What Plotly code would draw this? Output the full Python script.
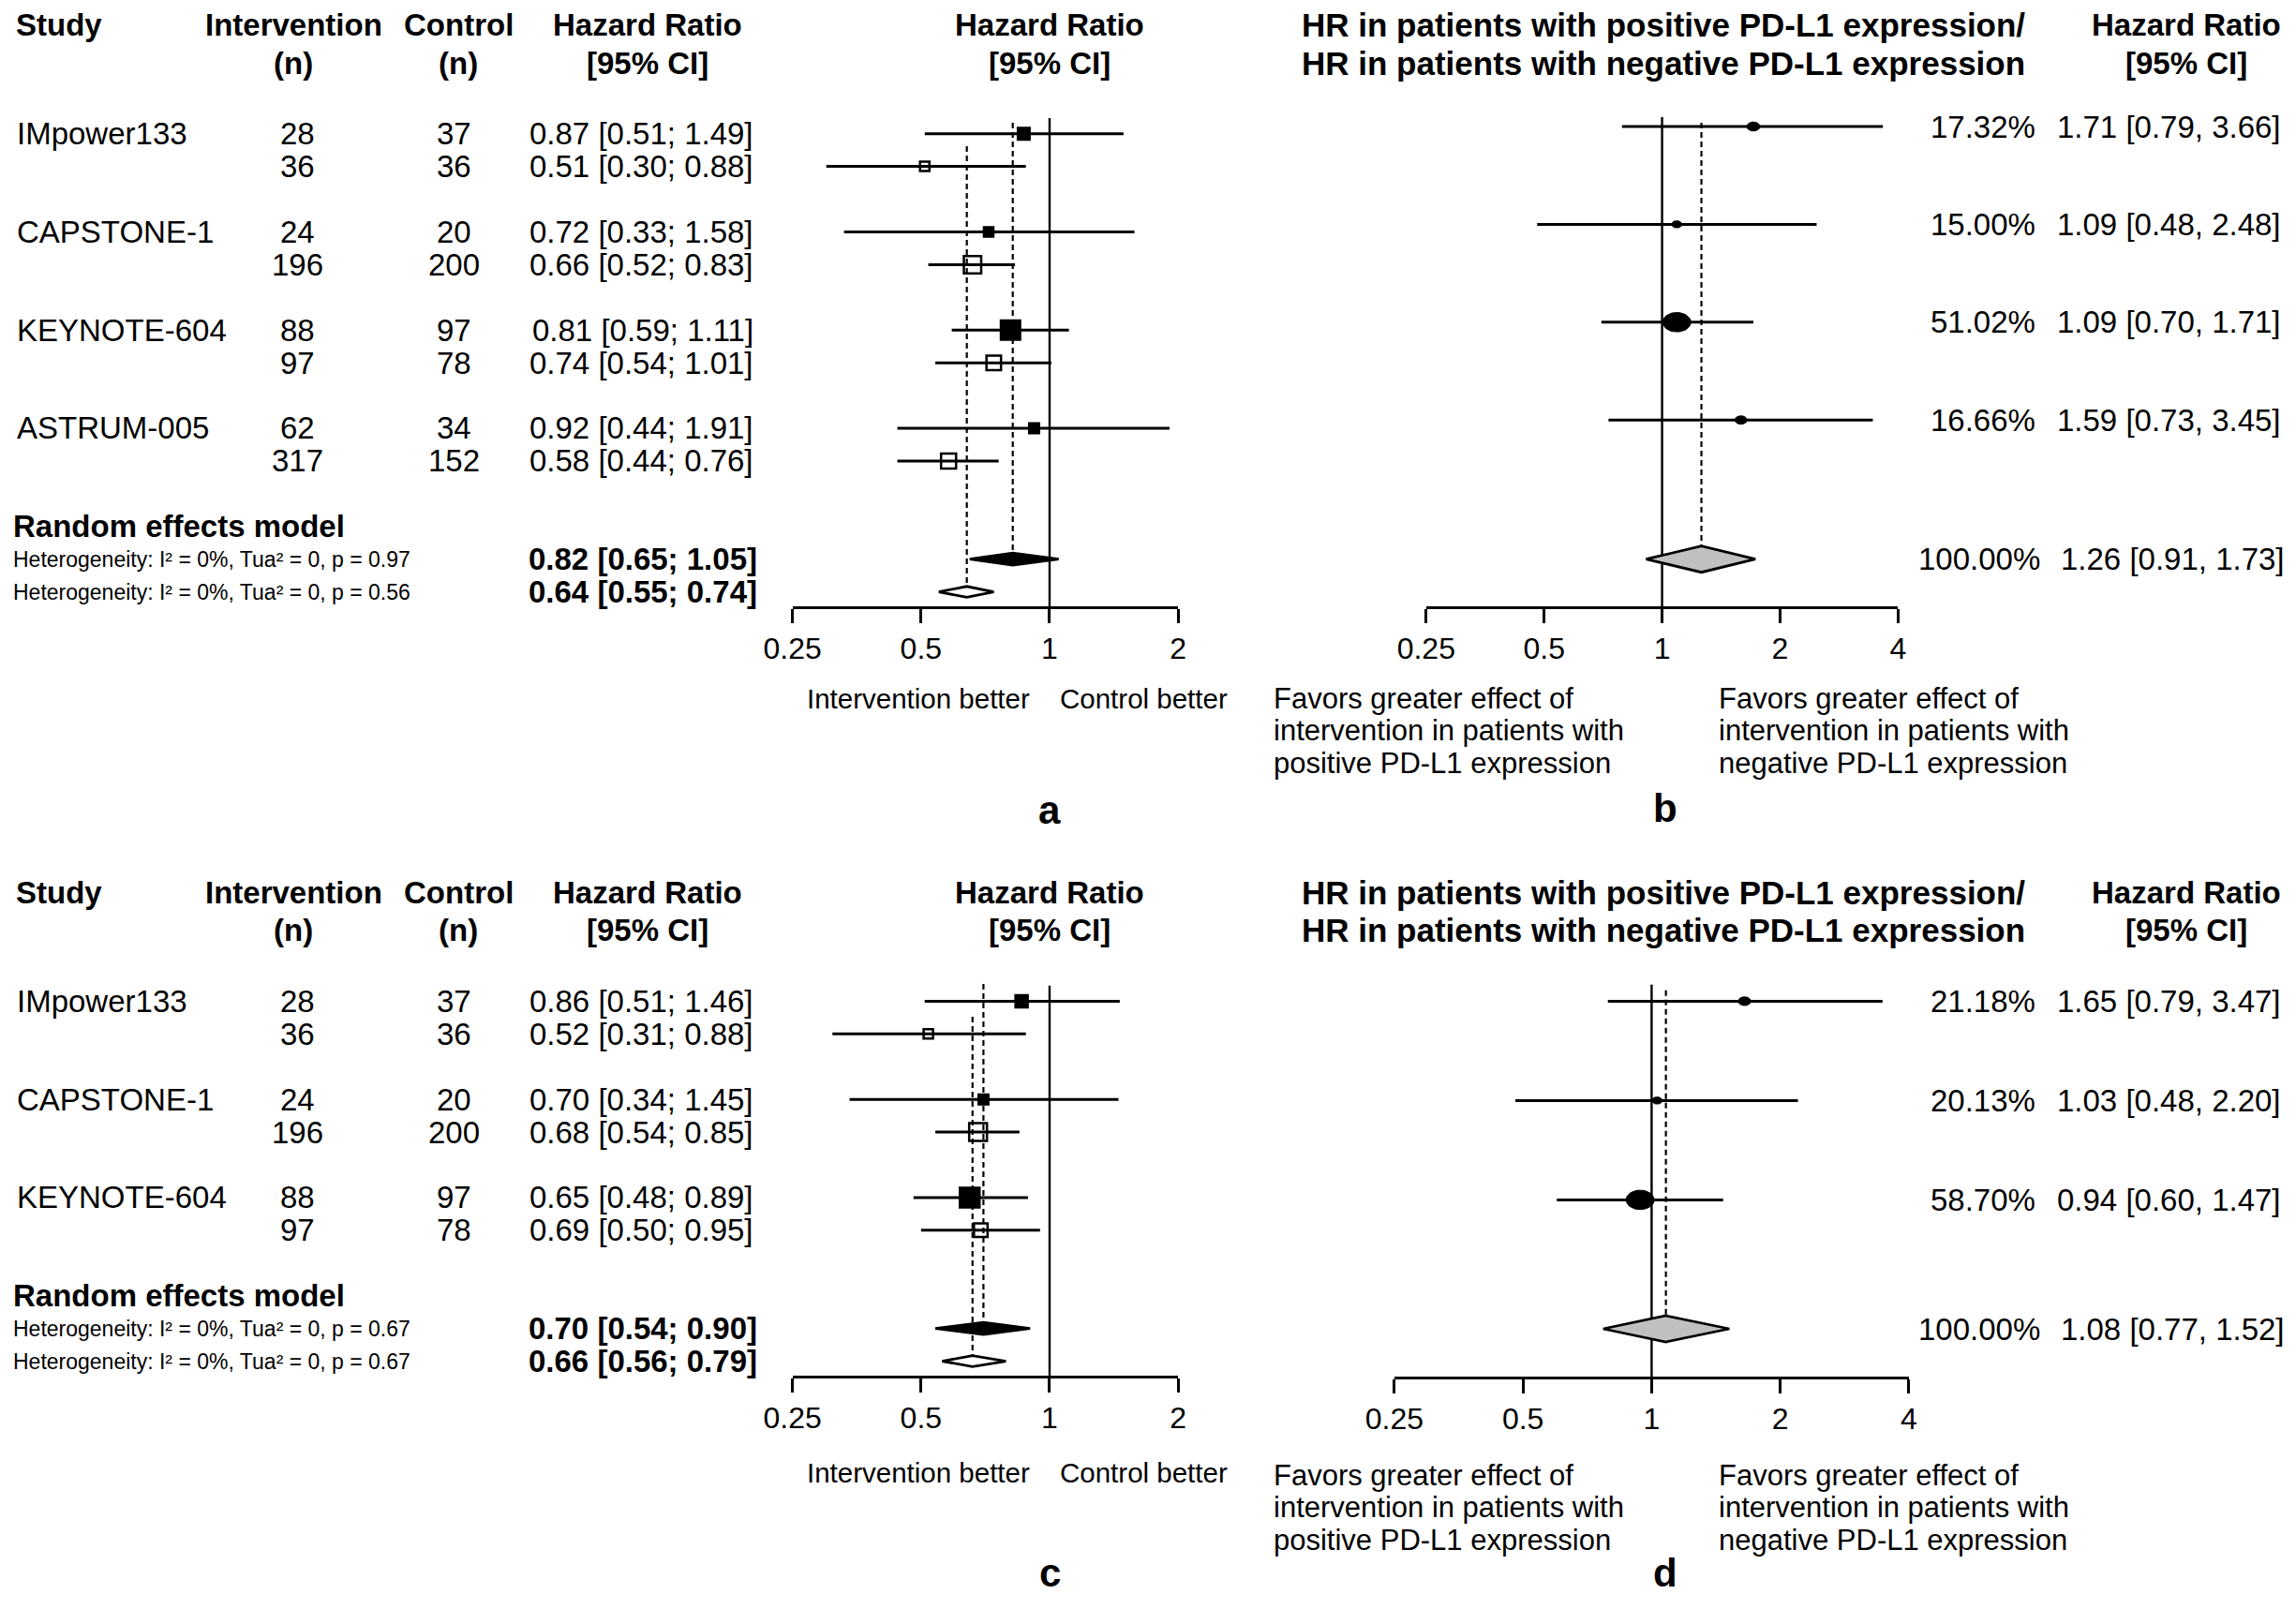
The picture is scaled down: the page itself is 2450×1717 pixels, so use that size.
"""
Forest plots: PD-L1 positive / negative subgroups (panels a-d)
"""

import numpy as np
import plotly.graph_objects as go

W, H = 2450, 1717
OFF = 8  # default page margin of the html body
FONT = "Liberation Sans, Arial, Helvetica, sans-serif"

# ---------------- data ----------------
studies_top = ["IMpower133", "CAPSTONE-1", "KEYNOTE-604", "ASTRUM-005"]
studies_bottom = ["IMpower133", "CAPSTONE-1", "KEYNOTE-604"]

# panel a: first row = PD-L1 positive (filled), second row = PD-L1 negative (open)
a_pos_n_int = [28, 24, 88, 62]
a_pos_n_ctl = [37, 20, 97, 34]
a_pos_hr = [0.87, 0.72, 0.81, 0.92]
a_pos_lo = [0.51, 0.33, 0.59, 0.44]
a_pos_hi = [1.49, 1.58, 1.11, 1.91]
a_neg_n_int = [36, 196, 97, 317]
a_neg_n_ctl = [36, 200, 78, 152]
a_neg_hr = [0.51, 0.66, 0.74, 0.58]
a_neg_lo = [0.30, 0.52, 0.54, 0.44]
a_neg_hi = [0.88, 0.83, 1.01, 0.76]
a_pooled_hr = [0.82, 0.64]
a_pooled_lo = [0.65, 0.55]
a_pooled_hi = [1.05, 0.74]
a_het_p = ["0.97", "0.56"]

# panel b: ratio of HRs (positive / negative)
b_hr = [1.71, 1.09, 1.09, 1.59]
b_lo = [0.79, 0.48, 0.70, 0.73]
b_hi = [3.66, 2.48, 1.71, 3.45]
b_weight = [17.32, 15.00, 51.02, 16.66]
b_pooled = [1.26, 0.91, 1.73]

# panel c
c_pos_n_int = [28, 24, 88]
c_pos_n_ctl = [37, 20, 97]
c_pos_hr = [0.86, 0.70, 0.65]
c_pos_lo = [0.51, 0.34, 0.48]
c_pos_hi = [1.46, 1.45, 0.89]
c_neg_n_int = [36, 196, 97]
c_neg_n_ctl = [36, 200, 78]
c_neg_hr = [0.52, 0.68, 0.69]
c_neg_lo = [0.31, 0.54, 0.50]
c_neg_hi = [0.88, 0.85, 0.95]
c_pooled_hr = [0.70, 0.66]
c_pooled_lo = [0.54, 0.56]
c_pooled_hi = [0.90, 0.79]
c_het_p = ["0.67", "0.67"]

# panel d
d_hr = [1.65, 1.03, 0.94]
d_lo = [0.79, 0.48, 0.60]
d_hi = [3.47, 2.20, 1.47]
d_weight = [21.18, 20.13, 58.70]
d_pooled = [1.08, 0.77, 1.52]

ticks_left = [0.25, 0.5, 1, 2]
ticks_right = [0.25, 0.5, 1, 2, 4]

# marker sizes (pixels)
a_pos_size = [12.5, 10, 20.5, 10.5]
a_neg_size = [10, 18.5, 15.5, 16]
c_pos_size = [13, 10.5, 21]
c_neg_size = [10, 19, 14.5]
b_dot_width = [14, 11, 30, 13]
d_dot_width = [13.5, 11, 30]
DOT_ASPECT = 1.45  # dots in b/d are drawn as flattened ellipses

# panel x-extents (pixels of tick span)
PANEL_X = {"x": (845.7, 1257.1), "x2": (1521.8, 2025.3),
           "x3": (845.7, 1257.1), "x4": (1487.9, 2036.9)}
PANEL_TICKS = {"x": ticks_left, "x2": ticks_right, "x3": ticks_left, "x4": ticks_right}

fig = go.Figure()
annotations = []


def px_x(x):
    return (x - OFF) / (W - 2 * OFF)


def txt(x, y, s, size=33, align="center", bold=False):
    annotations.append(dict(
        x=px_x(x), y=y, xref="paper", yref="y",
        text=f"<b>{s}</b>" if bold else s,
        showarrow=False, xanchor=align, yanchor="middle",
        font=dict(family=FONT, size=size, color="black")))


def seg(xaxis, x, y, width=3, dash=None):
    fig.add_trace(go.Scatter(
        x=x, y=y, mode="lines", xaxis=xaxis, yaxis="y",
        line=dict(color="black", width=width, dash=dash),
        hoverinfo="skip", showlegend=False))


def ci_lines(xaxis, lo, hi, ys):
    xs, yy = [], []
    for l, h, y in zip(lo, hi, ys):
        xs += [l, h, None]
        yy += [y, y, None]
    seg(xaxis, xs, yy)


def points(xaxis, hr, ys, sizes, symbol):
    fig.add_trace(go.Scatter(
        x=hr, y=ys, mode="markers", xaxis=xaxis, yaxis="y", cliponaxis=False,
        marker=dict(symbol=symbol, size=sizes, color="black", opacity=1,
                    line=dict(color="black", width=2.5)),
        hoverinfo="skip", showlegend=False))


def ellipses(xaxis, hr, ys, widths):
    x0, x1 = PANEL_X[xaxis]
    tk = PANEL_TICKS[xaxis]
    px_per_dec = (x1 - x0) / (np.log10(tk[-1]) - np.log10(tk[0]))
    t = np.linspace(0, 2 * np.pi, 48)
    for v, y, w in zip(hr, ys, widths):
        xs = 10 ** (np.log10(v) + (w / 2) / px_per_dec * np.cos(t))
        yy = y + (w / DOT_ASPECT / 2) * np.sin(t)
        fig.add_trace(go.Scatter(
            x=xs, y=yy, mode="lines", fill="toself", fillcolor="black",
            line=dict(color="black", width=1), xaxis=xaxis, yaxis="y",
            hoverinfo="skip", showlegend=False))


def diamond(xaxis, est, lo, hi, y, half, fill):
    fig.add_trace(go.Scatter(
        x=[lo, est, hi, est, lo], y=[y, y - half, y, y + half, y],
        mode="lines", fill="toself", fillcolor=fill, xaxis=xaxis, yaxis="y",
        line=dict(color="black", width=2.8), hoverinfo="skip", showlegend=False))


def left_panel(xaxis, top, studies, pos_ni, pos_nc, pos_hr, pos_lo, pos_hi,
               neg_ni, neg_nc, neg_hr, neg_lo, neg_hi, pooled_hr, pooled_lo,
               pooled_hi, het_p, pos_size, neg_size, dash_top, axis_y,
               lab_y, letter_y, letter):
    row0, step = top + 142.7, 34.92
    k = len(studies)
    y_pos = [row0 + 3 * i * step for i in range(k)]
    y_neg = [row0 + (3 * i + 1) * step for i in range(k)]
    y_re = row0 + 3 * k * step
    y_sum = [y_re + step, y_re + 2 * step]

    # headers
    txt(15, top + 26.5, "Study", align="left", bold=True)
    txt(313, top + 26.5, "Intervention", bold=True)
    txt(313, top + 67, "(n)", bold=True)
    txt(489, top + 26.5, "Control", bold=True)
    txt(489, top + 67, "(n)", bold=True)
    txt(691, top + 26.5, "Hazard Ratio", bold=True)
    txt(691, top + 67, "[95% CI]", bold=True)
    txt(1120, top + 26.5, "Hazard Ratio", bold=True)
    txt(1120, top + 67, "[95% CI]", bold=True)

    for i in range(k):
        txt(16, y_pos[i], studies[i], align="left")
        txt(317, y_pos[i], str(pos_ni[i]))
        txt(484, y_pos[i], str(pos_nc[i]))
        txt(806, y_pos[i], f"{pos_hr[i]:.2f} [{pos_lo[i]:.2f}; {pos_hi[i]:.2f}]", align="right")
        txt(317, y_neg[i], str(neg_ni[i]))
        txt(484, y_neg[i], str(neg_nc[i]))
        txt(806, y_neg[i], f"{neg_hr[i]:.2f} [{neg_lo[i]:.2f}; {neg_hi[i]:.2f}]", align="right")

    txt(12, y_re, "Random effects model", align="left", bold=True)
    for j in range(2):
        txt(12, y_sum[j], f"Heterogeneity: I² = 0%, Tua² = 0, p = {het_p[j]}",
            size=23, align="left")
        txt(810, y_sum[j], f"{pooled_hr[j]:.2f} [{pooled_lo[j]:.2f}; {pooled_hi[j]:.2f}]",
            align="right", bold=True)

    # reference lines
    seg(xaxis, [1, 1], [top + 126, axis_y], width=2.4)
    halves = [6.4, 5.8]
    for j in range(2):
        seg(xaxis, [pooled_hr[j]] * 2, [dash_top[j], y_sum[j] - halves[j]],
            width=2.2, dash="6px,4px")

    ci_lines(xaxis, pos_lo, pos_hi, y_pos)
    ci_lines(xaxis, neg_lo, neg_hi, y_neg)
    points(xaxis, pos_hr, y_pos, pos_size, "square")
    points(xaxis, neg_hr, y_neg, neg_size, "square-open")
    diamond(xaxis, pooled_hr[0], pooled_lo[0], pooled_hi[0], y_sum[0], halves[0], "black")
    diamond(xaxis, pooled_hr[1], pooled_lo[1], pooled_hi[1], y_sum[1], halves[1], "white")

    txt(980, lab_y, "Intervention better", size=29.5)
    txt(1220, lab_y, "Control better", size=29.5)
    txt(1120, letter_y, letter, size=42, bold=True)


def right_panel(xaxis, top, rows, hr, lo, hi, weight, pooled, widths,
                y_pool, axis_y, lab_y, letter_y, letter):
    txt(1775, top + 26.5, "HR in patients with positive PD-L1 expression/", size=35, bold=True)
    txt(1775, top + 67, "HR in patients with negative PD-L1 expression", size=35, bold=True)
    txt(2333, top + 26.5, "Hazard Ratio", bold=True)
    txt(2333, top + 67, "[95% CI]", bold=True)

    for i, y in enumerate(rows):
        txt(2174, y, f"{weight[i]:.2f}%", align="right")
        txt(2436, y, f"{hr[i]:.2f} [{lo[i]:.2f}, {hi[i]:.2f}]", align="right")
    txt(2179, y_pool, f"{100:.2f}%", align="right")
    txt(2440, y_pool, f"{pooled[0]:.2f} [{pooled[1]:.2f}, {pooled[2]:.2f}]", align="right")

    half = 14
    seg(xaxis, [1, 1], [top + 125, axis_y], width=2.4)
    seg(xaxis, [pooled[0]] * 2, [top + 131, y_pool - half], width=2.2, dash="6px,4px")
    ci_lines(xaxis, lo, hi, rows)
    ellipses(xaxis, hr, rows, widths)
    diamond(xaxis, pooled[0], pooled[1], pooled[2], y_pool, half, "#c0c0c0")

    left_lines = ["Favors greater effect of", "intervention in patients with",
                  "positive PD-L1 expression"]
    right_lines = ["Favors greater effect of", "intervention in patients with",
                   "negative PD-L1 expression"]
    for j in range(3):
        txt(1357, lab_y + 34.5 * j, left_lines[j], size=31, align="left")
        txt(1832, lab_y + 34.5 * j, right_lines[j], size=31, align="left")
    txt(1777, letter_y, letter, size=42, bold=True)


# panel a
left_panel("x", 0, studies_top, a_pos_n_int, a_pos_n_ctl, a_pos_hr, a_pos_lo, a_pos_hi,
           a_neg_n_int, a_neg_n_ctl, a_neg_hr, a_neg_lo, a_neg_hi,
           a_pooled_hr, a_pooled_lo, a_pooled_hi, a_het_p, a_pos_size, a_neg_size,
           dash_top=[131, 156], axis_y=648, lab_y=745, letter_y=864, letter="a")

# panel b
right_panel("x2", 0, [135, 239.4, 343.8, 448.2], b_hr, b_lo, b_hi, b_weight, b_pooled,
            b_dot_width, y_pool=596.7, axis_y=648, lab_y=745, letter_y=862, letter="b")

# panel c
left_panel("x3", 925.7, studies_bottom, c_pos_n_int, c_pos_n_ctl, c_pos_hr, c_pos_lo, c_pos_hi,
           c_neg_n_int, c_neg_n_ctl, c_neg_hr, c_neg_lo, c_neg_hi,
           c_pooled_hr, c_pooled_lo, c_pooled_hi, c_het_p, c_pos_size, c_neg_size,
           dash_top=[1050, 1085], axis_y=1469, lab_y=1571, letter_y=1678, letter="c")

# panel d
right_panel("x4", 925.7, [1068.4, 1174.4, 1280.4], d_hr, d_lo, d_hi, d_weight, d_pooled,
            d_dot_width, y_pool=1418, axis_y=1470, lab_y=1574, letter_y=1678, letter="d")


def xaxis_cfg(name, axis_y):
    x0, x1 = PANEL_X[name]
    ticks = PANEL_TICKS[name]
    return dict(
        type="log", domain=[px_x(x0), px_x(x1)],
        range=[np.log10(ticks[0]), np.log10(ticks[-1])],
        anchor="free", position=1 - (axis_y - OFF) / (H - 2 * OFF), automargin=False,
        showline=True, linecolor="black", linewidth=3,
        ticks="outside", ticklen=15, tickwidth=3, tickcolor="black",
        tickvals=ticks, ticktext=[f"{t:g}" for t in ticks],
        tickfont=dict(family=FONT, size=32, color="black"),
        showgrid=False, zeroline=False, fixedrange=True)


fig.update_layout(
    template="none",
    width=W - 2 * OFF, height=H - 2 * OFF,
    margin=dict(l=0, r=0, t=0, b=0, pad=0, autoexpand=False),
    paper_bgcolor="white", plot_bgcolor="rgba(0,0,0,0)",
    showlegend=False,
    xaxis=xaxis_cfg("x", 648),
    xaxis2=xaxis_cfg("x2", 648),
    xaxis3=xaxis_cfg("x3", 1469),
    xaxis4=xaxis_cfg("x4", 1470),
    yaxis=dict(range=[H - OFF, OFF], domain=[0, 1], visible=False, fixedrange=True,
               automargin=False),
    annotations=annotations,
)

fig.write_html("out.html")
